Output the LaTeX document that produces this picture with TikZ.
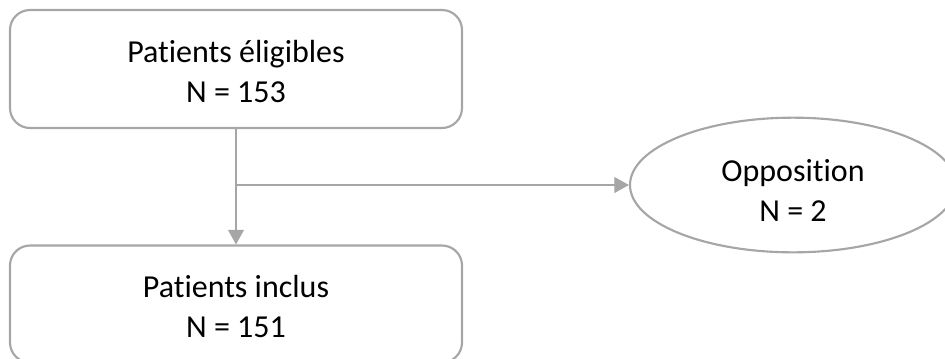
\documentclass[tikz,border=0pt]{standalone}
\usepackage{fontspec}
\setmainfont{Carlito}[Ligatures={NoCommon}]
\usetikzlibrary{shapes.geometric,arrows.meta}
\definecolor{edge}{HTML}{A6A6A6}
\newcommand{\topstrut}[1]{\rule{0pt}{#1}}
\tikzset{
  box/.style={draw=edge, line width=1.6pt, rounded corners=15pt, align=center,
    minimum width=339pt, minimum height=88.5pt, inner sep=0pt,
    font=\fontsize{24}{30}\selectfont},
  oval/.style={draw=edge, line width=1.6pt, ellipse, align=center,
    minimum width=244.5pt, minimum height=101pt, inner sep=0pt,
    font=\fontsize{24}{30}\selectfont},
  conn/.style={draw=edge, line width=0.9pt, -{Triangle[width=12pt,length=11pt]}}
}
\begin{document}
\begin{tikzpicture}[x=0.75pt,y=-0.75pt]
\useasboundingbox (0,0) rectangle (945,358);
\node[box] (top) at (236,69) {\topstrut{20.6pt}Patients éligibles\\N = 153};
\node[box, minimum height=87.75pt] (bot) at (236,304) {\topstrut{20.6pt}Patients inclus\\N = 151};
\node[oval] (opp) at (793,185) {\topstrut{25pt}Opposition\\N = 2};
\coordinate (br) at (top.south |- opp.west);
\draw[conn] (top.south) -- (bot.north);
\draw[conn] (br) -- (opp.west);
\end{tikzpicture}
\end{document}
